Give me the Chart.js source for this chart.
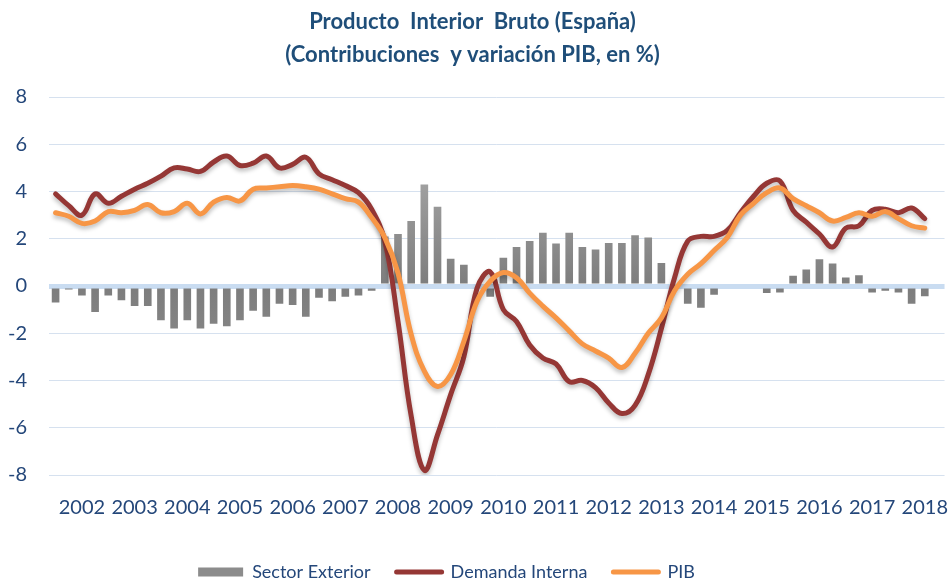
<!DOCTYPE html>
<html>
<head>
  <meta charset="UTF-8" />
  <title>Producto Interior Bruto (España)</title>
  <script src="https://cdn.jsdelivr.net/npm/chart.js"></script>
  <style>
    html, body { margin: 0; padding: 0; background: #fff; }
    #wrap { width: 951px; height: 581px; position: relative; }
  </style>
</head>
<body>
  <div id="wrap"><canvas id="pibChart"></canvas></div>

  <script>
// years shown on the axis, data is quarterly (2002 T1 .. 2018 T3)
const years = [2002, 2003, 2004, 2005, 2006, 2007, 2008, 2009, 2010, 2011, 2012, 2013, 2014, 2015, 2016, 2017, 2018];
const quarters = ['T1', 'T2', 'T3', 'T4'];

const sectorExterior = [
  -0.7, -0.15, -0.4, -1.1,   -0.4, -0.6, -0.85, -0.85,   -1.45, -1.8, -1.45, -1.8,
  -1.6, -1.7, -1.45, -1.05,  -1.3, -0.75, -0.8, -1.3,    -0.5, -0.65, -0.45, -0.4,
  -0.2, 2.1, 2.2, 2.75,      4.3, 3.35, 1.15, 0.9,       0, -0.45, 1.2, 1.65,
  1.9, 2.25, 1.8, 2.25,      1.65, 1.55, 1.82, 1.82,     2.15, 2.05, 0.97, -0.1,
  -0.75, -0.92, -0.37, 0, 0, 0, -0.3, -0.28,             0.43, 0.7, 1.13, 0.95,
  0.36, 0.45, -0.28, -0.2,   -0.28, -0.75, -0.43
];

const demandaInterna = [
  3.9, 3.4, 3.0, 3.9,     3.5, 3.8, 4.1, 4.35,     4.65, 5.0, 4.95, 4.85,
  5.25, 5.5, 5.1, 5.2,    5.5, 5.0, 5.15, 5.45,    4.75, 4.5, 4.25, 3.95,
  3.25, 1.9, -1.5, -5.5,  -7.8, -6.3, -4.6, -3.0,  -0.1, 0.6, -1.0, -1.5,
  -2.5, -3.05, -3.3, -4.05, -4.0, -4.3, -4.95, -5.4, -5.05, -3.75, -1.8, 0.35,
  1.9, 2.1, 2.1, 2.35,    3.1, 3.8, 4.35, 4.45,    3.2, 2.7, 2.2, 1.65,
  2.45, 2.55, 3.2, 3.25,  3.1, 3.3, 2.85
];

const pib = [
  3.1, 2.95, 2.65, 2.75,   3.15, 3.1, 3.2, 3.45,    3.1, 3.15, 3.5, 3.05,
  3.55, 3.75, 3.6, 4.1,    4.15, 4.2, 4.25, 4.2,    4.1, 3.9, 3.7, 3.55,
  2.9, 2.05, 0.55, -2.05,  -3.6, -4.25, -3.75, -2.35, -0.65, 0.2, 0.57, 0.35,
  -0.3, -0.85, -1.35, -1.9, -2.45, -2.75, -3.05, -3.45, -2.85, -2.0, -1.35, -0.2,
  0.5, 0.95, 1.5, 2.05,    3.0, 3.5, 3.95, 4.15,    3.7, 3.4, 3.1, 2.75,
  2.9, 3.1, 2.95, 3.15,    2.85, 2.55, 2.45
];

const labels = [];
years.forEach(y => quarters.forEach(q => labels.push(y + ' ' + q)));

const textColor = '#24477a';
Chart.defaults.font.family = 'Lato, "Open Sans", sans-serif';
Chart.defaults.color = textColor;

// soft shadow under the two lines, like the original
const lineShadow = {
  id: 'lineShadow',
  beforeDatasetDraw(chart, args) {
    if (args.meta.type !== 'line') return;
    const ctx = chart.ctx;
    ctx.save();
    ctx.shadowColor = 'rgba(0,0,0,0.25)';
    ctx.shadowBlur = 4;
    ctx.shadowOffsetY = 3;
  },
  afterDatasetDraw(chart, args) {
    if (args.meta.type !== 'line') return;
    chart.ctx.restore();
  }
};

// the legend in the original sits a bit left of centre
const legendShift = {
  id: 'legendShift',
  afterLayout(chart) {
    if (!chart.legend) return;
    chart.legend.left -= 26;
    chart.legend.right -= 26;
  }
};

function barGradient(context) {
  const area = context.chart.chartArea;
  if (!area) return '#8c8c8c';
  const g = context.chart.ctx.createLinearGradient(0, area.top, 0, area.bottom);
  g.addColorStop(0, '#bdbdbd');
  g.addColorStop(0.5, '#7d7d7d');
  g.addColorStop(1, '#9a9a9a');
  return g;
}

const ctx = document.getElementById('pibChart').getContext('2d');
new Chart(ctx, {
  type: 'bar',
  data: {
    labels,
    datasets: [
      {
        type: 'bar',
        label: 'Sector Exterior',
        data: sectorExterior,
        backgroundColor: barGradient,
        categoryPercentage: 1,
        barPercentage: 0.58,
        order: 3
      },
      {
        type: 'line',
        label: 'Demanda Interna',
        data: demandaInterna,
        borderColor: '#953735',
        backgroundColor: '#953735',
        borderWidth: 5,
        borderCapStyle: 'round',
        borderJoinStyle: 'round',
        tension: 0.4,
        pointRadius: 0,
        order: 2
      },
      {
        type: 'line',
        label: 'PIB',
        data: pib,
        borderColor: '#f79646',
        backgroundColor: '#f79646',
        borderWidth: 5,
        borderCapStyle: 'round',
        borderJoinStyle: 'round',
        tension: 0.4,
        pointRadius: 0,
        order: 1
      }
    ]
  },
  options: {
    responsive: true,
    maintainAspectRatio: false,
    animation: false,
    layout: { padding: { left: 0, right: 6, top: 0, bottom: -10 } },
    scales: {
      x: {
        offset: true,
        grid: { display: false },
        border: { display: false },
        ticks: {
          autoSkip: false,
          maxRotation: 0,
          padding: 13,
          font: { size: 20 },
          callback: (val, i) => (i % 4 === 2 ? String(years[Math.floor(i / 4)]) : '')
        },
        afterFit: scale => { scale.height = 62; }
      },
      y: {
        min: -8,
        max: 8,
        border: { display: false },
        grid: {
          drawTicks: false,
          color: c => (c.tick.value === 0 ? '#c9dcf1' : '#d6e1ef'),
          lineWidth: c => (c.tick.value === 0 ? 5 : 1)
        },
        ticks: { stepSize: 2, padding: 22, font: { size: 20 } },
        afterFit: scale => { scale.width = 49; }
      }
    },
    plugins: {
      title: {
        display: true,
        text: ['Producto  Interior  Bruto (España)', '(Contribuciones  y variación PIB, en %)'],
        color: '#1f4e79',
        font: { size: 22, weight: 'bold', lineHeight: 1.5 },
        padding: { top: 5, bottom: 26 }
      },
      legend: {
        position: 'bottom',
        labels: {
          usePointStyle: true,
          pointStyleWidth: 45,
          boxHeight: 9,
          padding: 26,
          font: { size: 18 },
          color: textColor,
          sort: (a, b) => a.datasetIndex - b.datasetIndex,
          generateLabels: chart => {
            const items = Chart.defaults.plugins.legend.labels.generateLabels(chart);
            items.forEach(it => {
              const ds = chart.data.datasets[it.datasetIndex];
              if (ds.type === 'bar') {
                it.pointStyle = 'rect';
                it.fillStyle = '#8c8c8c';
                it.strokeStyle = '#8c8c8c';
                it.lineWidth = 0;
              } else {
                it.pointStyle = 'line';
                it.strokeStyle = ds.borderColor;
                it.lineWidth = 5;
                it.lineCap = 'round';
              }
            });
            return items;
          }
        }
      },
      tooltip: { enabled: false }
    }
  },
  plugins: [lineShadow, legendShift]
});
  </script>
</body>
</html>
